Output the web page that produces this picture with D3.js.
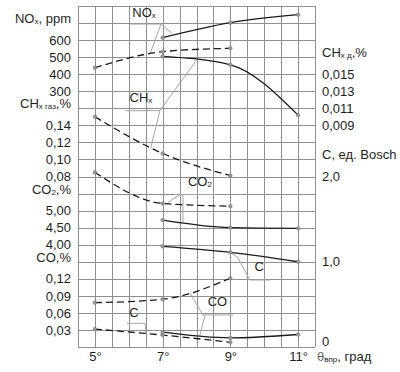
<!DOCTYPE html>
<html lang="ru">
<head>
    <meta charset="UTF-8">
    <title>Emissions vs injection timing</title>
    <script src="https://cdn.jsdelivr.net/npm/d3@7"></script>
    <style>
        body { margin: 0; background: #fff; }
        text { font-family: "Liberation Sans", Arial, sans-serif; fill: #1e1e1e; }
    </style>
</head>
<body>
<script>
    // углы опережения впрыска
    var anglesGas = [5, 7, 9];
    var anglesDiesel = [7, 9, 11];

    // газодизель (штрих) / дизель (сплошная)
    var noxGas = [438, 532, 552];
    var noxDiesel = [614, 702, 749];
    var chGas = [0.150, 0.107, 0.081];
    var chDiesel = [0.0171, 0.0161, 0.0102];
    var co2Gas = [6.12, 5.21, 5.13];
    var co2Diesel = [4.72, 4.50, 4.48];
    var cGas = [0.21, 0.14, 0.055];
    var cDiesel = [1.18, 1.11, 1.00];
    var coGas = [0.078, 0.084, 0.121];
    var coDiesel = [0.026, 0.016, 0.022];

    // подписи шкал
    var xTicks = [5, 7, 9, 11];
    var noxTicks = [600, 500, 400, 300];
    var chGasTicks = [0.14, 0.12, 0.10, 0.08];
    var co2Ticks = [5.00, 4.50, 4.00];
    var coTicks = [0.12, 0.09, 0.06, 0.03];
    var chDieselTicks = [0.015, 0.013, 0.011, 0.009];
    var cTicks = [2.0, 1.0];

    var width = 400, height = 372;
    var svg = d3.select("body").append("svg")
        .attr("width", width)
        .attr("height", height);

    var x = d3.scaleLinear().domain([4.5, 11.5]).range([78, 315]);
    var row = d3.scaleLinear().domain([0, 20]).range([6, 347]);

    var yNox = d3.scaleLinear().domain([300, 800]).range([row(5), row(0)]);
    var yChD = d3.scaleLinear().domain([0.009, 0.015]).range([row(7), row(4)]);
    var yChG = d3.scaleLinear().domain([0.08, 0.14]).range([row(10), row(7)]);
    var yCo2 = d3.scaleLinear().domain([4, 5]).range([row(14), row(12)]);
    var yC = d3.scaleLinear().domain([0, 2]).range([row(20), row(10)]);
    var yCo = d3.scaleLinear().domain([0, 0.12]).range([row(20), row(16)]);

    var comma = function(fmt) {
        var f = d3.format(fmt);
        return function(d) { return f(d).replace(".", ","); };
    };

    // сетка
    var grid = svg.append("g").attr("stroke", "#8f8f8f").attr("stroke-width", 1);
    grid.selectAll(".v").data(d3.range(4.5, 11.51, 0.5)).enter().append("line")
        .attr("x1", d => Math.round(x(d)) + 0.5).attr("x2", d => Math.round(x(d)) + 0.5)
        .attr("y1", row(0)).attr("y2", row(20));
    grid.selectAll(".h").data(d3.range(0, 21)).enter().append("line")
        .attr("y1", d => Math.round(row(d)) + 0.5).attr("y2", d => Math.round(row(d)) + 0.5)
        .attr("x1", x(4.5)).attr("x2", x(11.5));

    function axisText(g) {
        g.select(".domain").remove();
        g.selectAll("text").attr("font-size", 13).attr("fill", "#1e1e1e")
            .style("font-family", "Liberation Sans, Arial, sans-serif");
    }

    // левые шкалы
    [[yNox, noxTicks, "d"], [yChG, chGasTicks, ".2f"], [yCo2, co2Ticks, ".2f"], [yCo, coTicks, ".2f"]]
        .forEach(function(a) {
            svg.append("g").attr("transform", "translate(" + x(4.5) + ",0)")
                .call(d3.axisLeft(a[0]).tickValues(a[1]).tickSize(0).tickPadding(7).tickFormat(comma(a[2])))
                .call(axisText);
        });
    // правые шкалы
    [[yChD, chDieselTicks, ".3f"], [yC, cTicks, ".1f"]].forEach(function(a) {
        svg.append("g").attr("transform", "translate(" + x(11.5) + ",0)")
            .call(d3.axisRight(a[0]).tickValues(a[1]).tickSize(0).tickPadding(7).tickFormat(comma(a[2])))
            .call(axisText);
    });
    svg.append("text").attr("x", x(11.5) + 7).attr("y", yC(0) - 5).attr("dy", "0.32em")
        .attr("font-size", 13).text("0");

    // ось X
    svg.append("g").attr("transform", "translate(0," + row(20) + ")")
        .call(d3.axisBottom(x).tickValues(xTicks).tickSize(0).tickPadding(5).tickFormat(d => d + "°"))
        .call(axisText);

    // заголовки шкал (с индексами)
    function label(px, py, anchor, parts) {
        var t = svg.append("text").attr("x", px).attr("y", py).attr("dy", "0.35em")
            .attr("text-anchor", anchor).attr("font-size", 13);
        parts.forEach(function(p) {
            if (p[1]) {
                t.append("tspan").attr("font-size", 8).attr("dy", 1).text(p[0]);
            } else {
                t.append("tspan").attr("dy", p[2] || 0).text(p[0]);
            }
        });
        return t;
    }
    label(x(4.5) - 7, row(1), "end", [["NO"], ["x", 1], [", ppm", 0, -1]]);
    label(x(4.5) - 7, row(6), "end", [["CH"], ["х газ", 1], [",%", 0, -1]]);
    label(x(4.5) - 7, row(11), "end", [["CO"], ["2", 1], [",%", 0, -1]]);
    label(x(4.5) - 7, row(15), "end", [["CO,%"]]);
    label(x(11.5) + 7, row(3), "start", [["CH"], ["х д", 1], [",%", 0, -1]]);
    label(x(11.5) + 7, row(9), "start", [["C, ед. Bosch"]]);

    var th = svg.append("text").attr("x", x(11.5) + 2).attr("y", row(20) + 14).attr("font-size", 13);
    th.append("tspan").attr("fill", "#666").text("θ");
    th.append("tspan").attr("font-size", 8).attr("dy", 1).text("впр");
    th.append("tspan").attr("dy", -1).text(", град");

    // выноски: точки в координатах (угол, строка сетки)
    var leaders = [
        [[6.04, 1.06], [6.95, 1.06], [7.28, 1.62]],
        [[6.95, 1.06], [6.63, 2.80]],
        [[5.89, 6.14], [6.92, 6.14], [8.0, 3.17]],
        [[6.92, 6.14], [6.65, 8.31]],
        [[7.34, 11.06], [8.60, 11.06]],
        [[7.51, 11.06], [7.16, 11.52]],
        [[7.60, 11.06], [7.60, 12.68]],
        [[9.0, 14.45], [9.22, 14.75], [9.58, 16.07], [10.17, 16.07]],
        [[8.19, 18.12], [9.08, 18.12]],
        [[8.19, 18.12], [7.81, 16.85]],
        [[8.25, 18.12], [8.1, 19.32]],
        [[5.94, 18.61], [6.48, 18.61], [6.51, 19.2]]
    ];
    var leaderLine = d3.line().x(d => x(d[0])).y(d => row(d[1]));
    svg.append("g").selectAll("path").data(leaders).enter().append("path")
        .attr("d", leaderLine).attr("fill", "none")
        .attr("stroke", "#a6a6a6").attr("stroke-width", 1);

    // надписи кривых
    label(x(6.45), row(0.63), "middle", [["NO"], ["x", 1]]);
    label(x(6.36), row(5.61), "middle", [["CH"], ["x", 1]]);
    label(x(8.1), row(10.56), "middle", [["CO"], ["2", 1]]);
    label(x(9.85), row(15.54), "middle", [["C"]]);
    label(x(8.62), row(17.6), "middle", [["CO"]]);
    label(x(6.15), row(18.22), "middle", [["C"]]);

    // кривые
    var series = [
        [anglesGas, noxGas, yNox, true],
        [anglesDiesel, noxDiesel, yNox, false],
        [anglesGas, chGas, yChG, true],
        [anglesDiesel, chDiesel, yChD, false],
        [anglesGas, co2Gas, yCo2, true],
        [anglesDiesel, co2Diesel, yCo2, false],
        [anglesGas, cGas, yC, true],
        [anglesDiesel, cDiesel, yC, false],
        [anglesGas, coGas, yCo, true],
        [anglesDiesel, coDiesel, yCo, false]
    ];
    series.forEach(function(s) {
        var pts = s[0].map((a, i) => [x(a), s[2](s[1][i])]);
        svg.append("path")
            .attr("d", d3.line().curve(d3.curveMonotoneX)(pts))
            .attr("fill", "none")
            .attr("stroke", "#1a1a1a")
            .attr("stroke-width", 1.3)
            .attr("stroke-dasharray", s[3] ? "7,4" : null);
        svg.append("g").selectAll("circle").data(pts).enter().append("circle")
            .attr("cx", d => d[0]).attr("cy", d => d[1]).attr("r", 1.8)
            .attr("fill", "#9a9a9a").attr("stroke", "#6a6a6a").attr("stroke-width", 0.5);
    });
</script>
</body>
</html>
